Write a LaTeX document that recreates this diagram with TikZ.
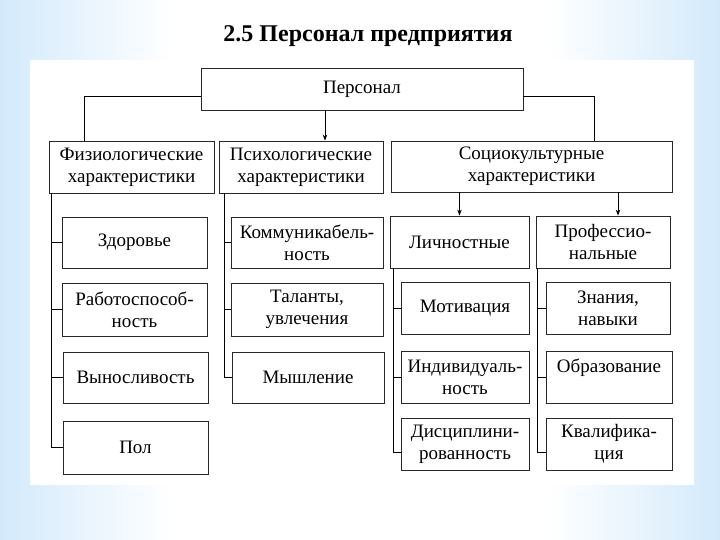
\documentclass[tikz,border=0pt]{standalone}
\usepackage{fontspec}
\setmainfont{Liberation Serif}
\usetikzlibrary{arrows.meta}
\definecolor{skyblue}{RGB}{156,207,246}
\definecolor{framegray}{RGB}{40,40,40}
\pgfdeclarehorizontalshading{slideback}{100bp}{color(0bp)=(skyblue); color(12bp)=(skyblue!92); color(37bp)=(white); color(63bp)=(white); color(88bp)=(skyblue!92); color(100bp)=(skyblue)}
\tikzset{
  box/.style={draw=framegray, line width=0.8pt, fill=white, align=center, inner sep=0pt,
    font=\fontsize{19}{22}\selectfont},
  titletext/.style={font=\bfseries\fontsize{24}{27}\selectfont},
  link/.style={draw=black, line width=0.8pt},
  arrowlink/.style={link, -{Stealth[length=6pt,width=4.5pt]}}
}

\begin{document}
\begin{tikzpicture}[x=1pt, y=-1pt]
\useasboundingbox (0,0) rectangle (720,540);
\shade[shading=slideback] (0,0) rectangle (720,540);
\fill[white] (30,60) rectangle (694,485);

% Title
\node[titletext] (title) at (368,36) {2.5 Персонал предприятия};

% top
\node[box, minimum width=322pt, minimum height=42pt] (pers) at (362,89) {Персонал};

% categories
\node[box, minimum width=165pt, minimum height=52pt] (fiz) at (131.5,167) {Физиологические\\характеристики};
\node[box, minimum width=164pt, minimum height=52pt] (psy) at (301,167) {Психологические\\характеристики};
\node[box, minimum width=281pt, minimum height=51pt] (soc) at (531.5,166.5) {Социокультурные\\характеристики};

% left column
\node[box, minimum width=145pt, minimum height=51pt] (zdor) at (134.5,242.5) {Здоровье};
\node[box, minimum width=145pt, minimum height=53pt] (rab) at (134.5,309.5) {Работоспособ-\\ность};
\node[box, minimum width=145pt, minimum height=51pt] (vyn) at (135.5,377.5) {Выносливость};
\node[box, minimum width=145pt, minimum height=53pt] (pol) at (135.5,447.5) {Пол};

% middle column
\node[box, minimum width=152pt, minimum height=51pt] (kom) at (307,242.5) {Коммуникабель-\\ность};
\node[box, minimum width=152pt, minimum height=53pt] (tal) at (307,309.5) {Таланты,\\увлечения};
\node[box, minimum width=152pt, minimum height=51pt] (mysh) at (308,377.5) {Мышление};

% right, second level
\node[box, minimum width=139pt, minimum height=52pt] (lich) at (459.5,242) {Личностные};
\node[box, minimum width=134pt, minimum height=52pt] (prof) at (603,242) {Профессио-\\нальные};

% personal
\node[box, minimum width=128pt, minimum height=52pt] (motiv) at (465,308) {Мотивация};
\node[box, minimum width=128pt, minimum height=52pt] (indiv) at (465,377) {Индивидуаль-\\ность};
\node[box, minimum width=128pt, minimum height=52pt] (disc) at (465,444) {Дисциплини-\\рованность};

% professional
\node[box, minimum width=124pt, minimum height=52pt] (zna) at (608,308) {Знания,\\навыки};
\node[box, minimum width=126pt, minimum height=52pt] (obr) at (609,377) {Образование\\\mbox{}};
\node[box, minimum width=126pt, minimum height=52pt] (kval) at (609,444) {Квалифика-\\ция};

% links from the top
\coordinate (psyin) at ([xshift=-37pt]pers.south);
\draw[arrowlink] (psyin) -- (psyin |- psy.north);
\draw[link] ([yshift=-7pt]pers.west) -| ([xshift=36pt]fiz.north west);
\draw[link] ([yshift=-7pt]pers.east) -| ([xshift=-78pt]soc.north east);

\coordinate (lichin) at (lich.north);
\coordinate (profin) at ([xshift=15pt]prof.north);
\draw[arrowlink] (lichin |- soc.south) -- (lichin);
\draw[arrowlink] (profin |- soc.south) -- (profin);

% spines
\coordinate (fizsp) at ([xshift=3pt]fiz.south west);
\coordinate (psysp) at ([xshift=6pt]psy.south west);
\coordinate (lichsp) at ([xshift=4pt]lich.south west);
\coordinate (profsp) at ([xshift=2pt]prof.south west);
\foreach \n in {zdor,rab,vyn,pol} \draw[link] (fizsp) |- (\n.west);
\foreach \n in {kom,tal,mysh} \draw[link] (psysp) |- (\n.west);
\foreach \n in {motiv,indiv} \draw[link] (lichsp) |- (\n.west);
\foreach \n in {zna,obr} \draw[link] (profsp) |- (\n.west);
% last branches sit a little lower
\draw[link] (lichsp) |- ([yshift=-8pt]disc.west);
\draw[link] (profsp) |- ([yshift=-8pt]kval.west);
\end{tikzpicture}
\end{document}
